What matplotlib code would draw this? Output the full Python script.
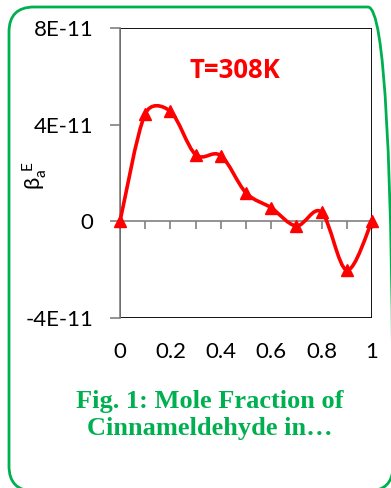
import matplotlib
matplotlib.use("Agg")
import matplotlib.pyplot as plt
import numpy as np
from matplotlib.path import Path
from matplotlib.patches import PathPatch, Rectangle, FancyBboxPatch
from matplotlib.transforms import IdentityTransform

# ---- data ----
mole_fraction = [0.0, 0.1, 0.2, 0.3, 0.4, 0.5, 0.6, 0.7, 0.8, 0.9, 1.0]
beta_excess = [0.0, 4.45e-11, 4.55e-11, 2.76e-11, 2.72e-11, 1.18e-11,
               0.56e-11, -0.19e-11, 0.38e-11, -2.02e-11, 0.0]
y_ticks = [-4e-11, 0, 4e-11, 8e-11]
y_tick_labels = ["-4E-11", "0", "4E-11", "8E-11"]
x_ticks = [0, 0.2, 0.4, 0.6, 0.8, 1.0]
x_tick_labels = ["0", "0.2", "0.4", "0.6", "0.8", "1"]
x_minor = [0.1 * i for i in range(11)]
series_label = "T=308K"
caption = "Fig. 1: Mole Fraction of\nCinnameldehyde in…"

RED = "#FF0000"
GREEN = "#00B050"
plt.rcParams["font.family"] = ["Lato", "DejaVu Sans"]
plt.rcParams["mathtext.fontset"] = "custom"
plt.rcParams["mathtext.rm"] = "Lato"
plt.rcParams["mathtext.it"] = "Lato"

fig = plt.figure(figsize=(3.91, 4.88), dpi=100)
ax = fig.add_axes([120 / 391, 1 - 318 / 488, 252 / 391, 290 / 488])

ymin, ymax = -4e-11, 8e-11
ax.set_xlim(0, 1)
ax.set_ylim(ymin, ymax)

# smooth curve (Excel-like Bezier smoothing), computed in display space
pts = ax.transData.transform(np.column_stack([mole_fraction, beta_excess]))
n = len(pts)
verts = [tuple(pts[0])]
codes = [Path.MOVETO]
for i in range(n - 1):
    p0 = pts[max(i - 1, 0)]
    p1 = pts[i]
    p2 = pts[i + 1]
    p3 = pts[min(i + 2, n - 1)]
    seg = np.linalg.norm(p2 - p1)
    a1 = (p2 - p0) / 6.0
    a2 = (p3 - p1) / 6.0
    lim = 0.5 * seg
    if np.linalg.norm(a1) > lim:
        a1 = a1 * lim / np.linalg.norm(a1)
    if np.linalg.norm(a2) > lim:
        a2 = a2 * lim / np.linalg.norm(a2)
    verts += [tuple(p1 + a1), tuple(p2 - a2), tuple(p2)]
    codes += [Path.CURVE4] * 3
inv = ax.transData.inverted()
verts = [tuple(v) for v in inv.transform(np.array(verts))]
ax.add_patch(PathPatch(Path(verts, codes), fill=False, ec=RED, lw=2.6,
                       zorder=3, clip_on=False))
ax.plot(mole_fraction, beta_excess, linestyle="none", marker="^", ms=8,
        color=RED, zorder=4, clip_on=False)

# frame
for s in ["top", "right", "bottom"]:
    ax.spines[s].set_visible(False)
ax.spines["left"].set_color("#808080")
ax.spines["left"].set_linewidth(1.2)
ax.add_patch(Rectangle((0, 0), 1, 1, transform=ax.transAxes, fill=False,
                       ec="black", lw=1.3, zorder=1))

ax.set_yticks(y_ticks)
ax.set_yticklabels(y_tick_labels)
ax.tick_params(axis="y", direction="out", length=7, width=1.2,
               color="#808080", pad=12, labelsize=16)

ax.set_xticks(x_ticks)
ax.set_xticklabels(x_tick_labels)
ax.tick_params(axis="x", length=0, pad=17, labelsize=16)

zero_frac = (0 - ymin) / (ymax - ymin)
sec = ax.secondary_xaxis(zero_frac)
sec.set_xticks(x_minor)
sec.set_xticklabels([])
sec.spines["bottom"].set_color("#808080")
sec.spines["bottom"].set_linewidth(1.2)
sec.tick_params(axis="x", direction="out", length=6, width=1.2,
                color="#808080")

ax.text(0.455, 0.855, series_label, transform=ax.transAxes, color=RED,
        fontsize=18.5, fontweight="bold", ha="center", va="center",
        family=["Open Sans", "DejaVu Sans"])

ax.set_ylabel(r"$\beta_a^{\ E}$", fontsize=16)
ax.yaxis.set_label_coords(-0.28, 0.49)

fig.text(0.537, 0.15, caption, ha="center", va="center", color=GREEN,
         fontsize=19, fontweight="bold", family=["Liberation Serif"],
         linespacing=1.22)

box = FancyBboxPatch((9 + 25, -3 + 25), 393 - 9 - 50, 484 - 50,
                     boxstyle="round,pad=25", transform=IdentityTransform(),
                     fill=False, ec=GREEN, lw=2.0)
fig.patches.append(box)

fig.savefig("out.png", dpi=100)
